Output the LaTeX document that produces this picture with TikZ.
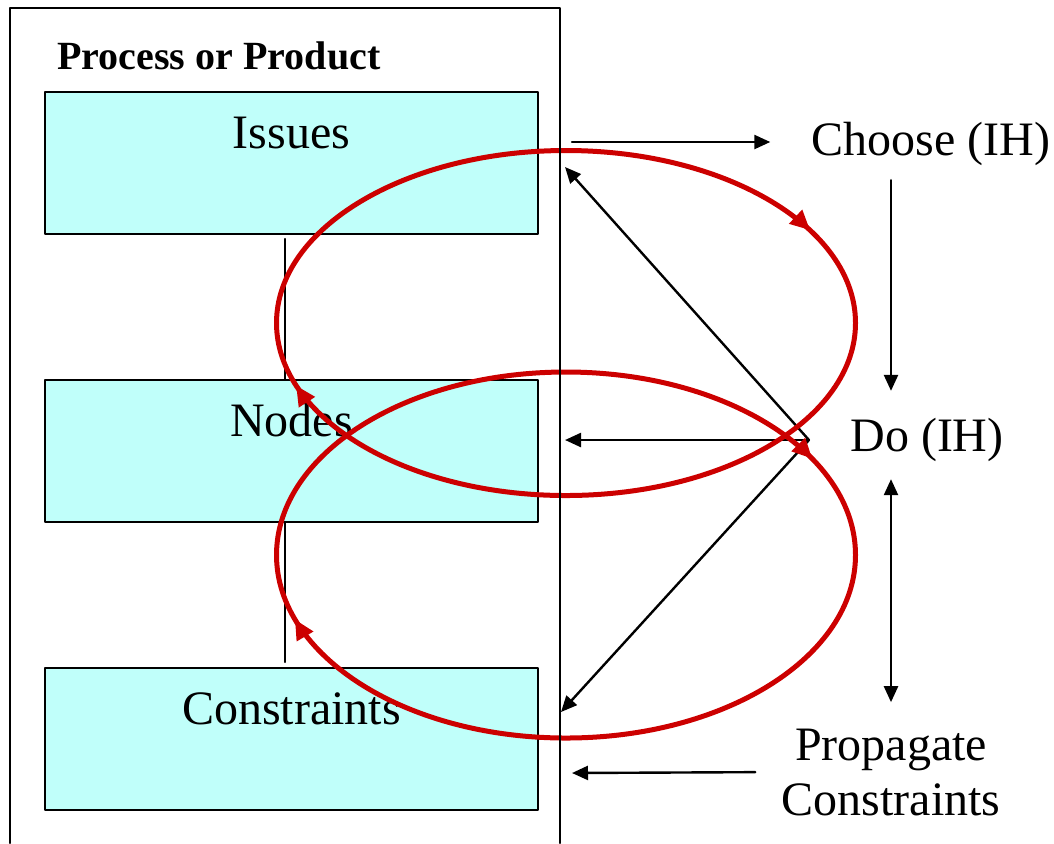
\documentclass[tikz,border=0pt]{standalone}
\usepackage{fontspec}
\setmainfont{Liberation Serif}
\usetikzlibrary{arrows.meta,decorations.markings}
\definecolor{boxfill}{RGB}{192,255,250}
\definecolor{loopred}{RGB}{204,0,0}

\begin{document}
\begin{tikzpicture}[x=0.5pt,y=-0.5pt,font=\fontsize{24pt}{27.5pt}\selectfont,
  line cap=round,line join=round,>={Triangle[length=8pt,width=7pt]},
  box/.style={draw,line width=1pt,fill=boxfill,minimum width=246.5pt,minimum height=71pt,
    inner ysep=10pt,text height=18pt,text depth=33pt},
  lbl/.style={inner sep=0pt,align=center},
  link/.style={->,line width=1.2pt},
  redloop/.style={draw,color=loopred,line width=2.5pt,postaction={decorate},
    decoration={markings,
      mark=at position 0.455 with {\arrow{Triangle[length=10pt,width=9pt]}},
      mark=at position 0.928 with {\arrow{Triangle[length=10pt,width=9pt]}}}}]
\useasboundingbox (0,0) rectangle (1054,843);

% the three levels
\node[box] (issues) at (291.5,163) {Issues};
\node[box] (nodes) at (291.5,451) {Nodes};
\node[box] (cons) at (291.5,739) {Constraints};
\node[lbl,anchor=west,font=\fontsize{20pt}{24pt}\selectfont\bfseries] (title) at (57,56) {Process or Product};
\draw[line width=1.2pt] ([xshift=-3.25pt,yshift=-2pt]issues.south) -- ([xshift=-3.25pt]nodes.north);
\draw[line width=1.2pt] ([xshift=-3.25pt]nodes.south) -- ([xshift=-3.25pt,yshift=2.5pt]cons.north);

% steps on the right
\node[lbl] (choose) at (931,144) {Choose (IH)};
\node[lbl] (do) at (927,440) {Do (IH)};
\node[lbl] (prop) at (891,772) {Propagate\\Constraints};
\coordinate (hub) at ([xshift=-20.5pt]do.west);
\coordinate (outissues) at (572,142);
\coordinate (inissues) at (565,167);
\coordinate (innodes) at (565,440);
\coordinate (incons) at (561,712);
\coordinate (inprop) at (572,773);

\draw[link,shorten >=20.5pt] (outissues) -- (choose.west |- outissues);
\draw[link,shorten <=7pt,shorten >=13.5pt] (choose.south -| prop) -- (do.north -| prop);
\draw[<->,line width=1.2pt,shorten <=8.5pt,shorten >=13pt] (do.south -| prop) -- (prop.north);
\draw[link] (hub) -- (inissues);
\draw[link] (hub) -- (innodes);
\draw[link] (hub) -- (incons);
\draw[link,shorten <=13pt] (prop.west) -- (inprop);

% the two cycles
\draw[redloop] (566,323) ellipse [x radius=289.5, y radius=172.5];
\draw[redloop] (566,555) ellipse [x radius=289.5, y radius=183];

\draw[line width=1.2pt] (10,843) |- (560,8) -- (560,843);
\end{tikzpicture}
\end{document}
